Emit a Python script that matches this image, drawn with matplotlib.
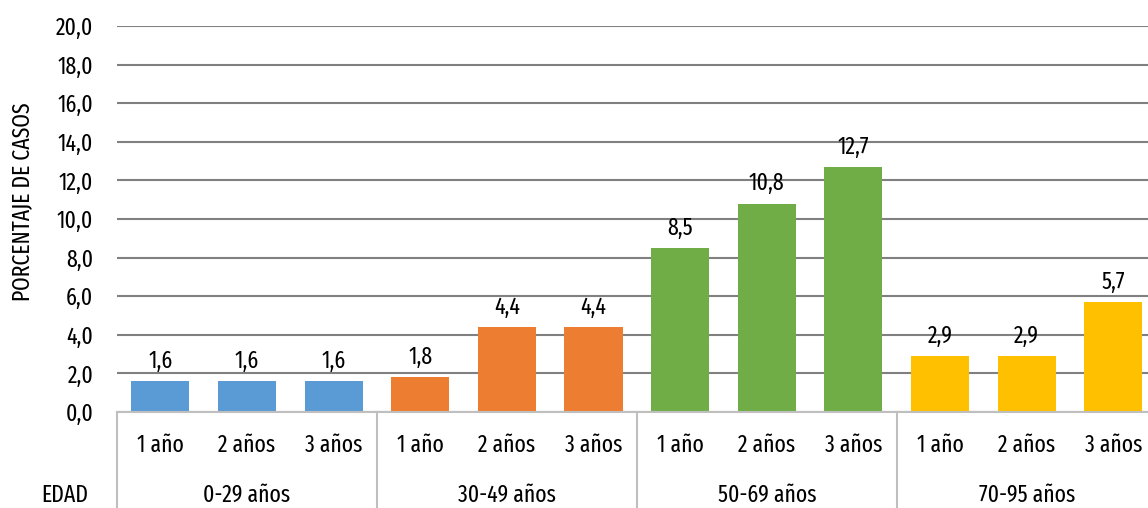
import matplotlib
matplotlib.use("Agg")
import matplotlib.pyplot as plt
import matplotlib.transforms as mtransforms

plt.rcParams['font.family'] = ['Fira Sans Extra Condensed', 'Fira Sans Condensed',
                               'IBM Plex Sans Condensed', 'DejaVu Sans']

groups = ["0-29 años", "30-49 años", "50-69 años", "70-95 años"]
periods = ["1 año", "2 años", "3 años"]
values = [
    [1.6, 1.6, 1.6],
    [1.8, 4.4, 4.4],
    [8.5, 10.8, 12.7],
    [2.9, 2.9, 5.7],
]
colors = ["#5B9BD5", "#ED7D31", "#70AD47", "#FFC000"]
yticks = [0, 2, 4, 6, 8, 10, 12, 14, 16, 18, 20]
fs = 17

fig = plt.figure(figsize=(11.48, 5.08), dpi=100)
ax = fig.add_axes([117 / 1148, 96 / 508, 1 - 117 / 1148, (412 - 26) / 508])

x = 0
for g, vals in enumerate(values):
    for v in vals:
        ax.bar(x, v, width=0.67, color=colors[g], zorder=3)
        ax.annotate(f"{v:.1f}".replace(".", ","), (x, v), xytext=(0, 6),
                    textcoords="offset points", ha="center", va="bottom",
                    fontsize=fs, color="#000000")
        x += 1

n = len(groups) * len(periods)
ax.set_xlim(-0.5, 11.4)
ax.set_ylim(0, 20)
ax.set_yticks(yticks)
ax.set_yticklabels([f"{t:.1f}".replace(".", ",") for t in yticks], fontsize=fs)
ax.yaxis.grid(True, color="#808080", linewidth=1.5, zorder=0)
ax.tick_params(axis="y", length=0, pad=17)
ax.set_xticks([])
for s in ["top", "right", "left"]:
    ax.spines[s].set_visible(False)
ax.spines["bottom"].set_color("#BFBFBF")
ax.spines["bottom"].set_linewidth(1.5)
ax.spines["bottom"].set_zorder(4)

ax.set_ylabel("PORCENTAJE DE CASOS", fontsize=fs)
ax.yaxis.set_label_coords(-0.081, 0.544)

# two-level category axis under the plot
trans = mtransforms.blended_transform_factory(ax.transData, ax.transAxes)
for i in range(n):
    ax.text(i, -0.085, periods[i % 3], transform=trans, ha="center",
            va="center", fontsize=fs)
for g, name in enumerate(groups):
    ax.text(g * 3 + 1, -0.215, name, transform=trans, ha="center",
            va="center", fontsize=fs)
for b in range(len(groups) + 1):
    ax.plot([b * 3 - 0.5, b * 3 - 0.5], [0, -0.26], transform=trans,
            color="#BFBFBF", linewidth=1.5, clip_on=False, zorder=4)
ax.text(65 / 1148, 13 / 508, "EDAD", transform=fig.transFigure,
        ha="center", va="center", fontsize=fs)

fig.savefig("out.png", dpi=100)
